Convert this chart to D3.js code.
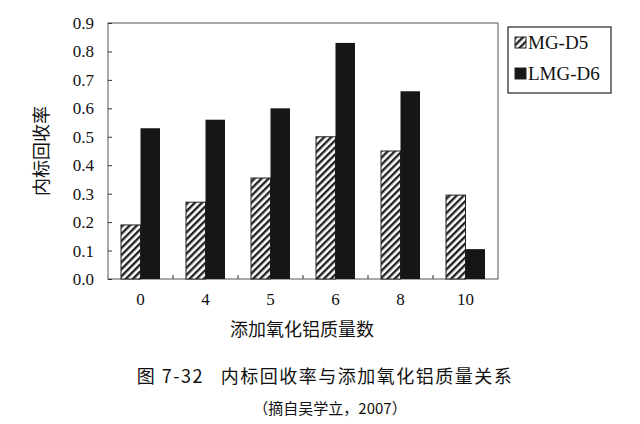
<!DOCTYPE html>
<html><head><meta charset="utf-8">
<script src="https://cdn.jsdelivr.net/npm/d3@7"></script>
<style>body{margin:0;background:#fff} text{white-space:pre}</style></head>
<body><svg id="c" width="640" height="424"></svg>
<script>
const categories = ["0","4","5","6","8","10"];
const seriesNames = ["MG-D5","LMG-D6"];
const mgD5 = [0.19,0.27,0.355,0.50,0.45,0.295];
const lmgD6 = [0.53,0.56,0.60,0.83,0.66,0.105];
const yTicks = [0,0.1,0.2,0.3,0.4,0.5,0.6,0.7,0.8,0.9];

const svg = d3.select("#c");
const serif = "'Liberation Serif','DejaVu Serif',serif";
const cjk = "'Noto Sans CJK SC',sans-serif";
const L=108,R=498,T=23,B=279;
const defs = svg.append("defs");
const pat = defs.append("pattern").attr("id","hatch").attr("patternUnits","userSpaceOnUse")
  .attr("width",5).attr("height",5).attr("patternTransform","rotate(45)");
pat.append("rect").attr("width",5).attr("height",5).attr("fill","#fff");
pat.append("rect").attr("width",2.4).attr("height",5).attr("fill","#222");

const x = d3.scaleBand().domain(categories).range([L,R]).paddingInner(0.4).paddingOuter(0.2);
const y = d3.scaleLinear().domain([0,0.9]).range([B,T]);
const bw = x.bandwidth()/2;

svg.append("rect").attr("x",L).attr("y",T).attr("width",R-L).attr("height",B-T)
  .attr("fill","none").attr("stroke","#555").attr("stroke-width",1);

const yA = svg.append("g").attr("transform",`translate(${L},0)`)
  .call(d3.axisLeft(y).tickValues(yTicks).tickFormat(d3.format(".1f")).tickSizeInner(-4).tickSizeOuter(0).tickPadding(14));
yA.select(".domain").remove();
yA.selectAll("line").attr("stroke","#333");
yA.selectAll("text").attr("font-family",serif).attr("font-size",17).attr("fill","#111");

const xA = svg.append("g").attr("transform",`translate(0,${B})`)
  .call(d3.axisBottom(x).tickSize(0).tickPadding(14));
xA.select(".domain").remove();
xA.selectAll("text").attr("font-family",serif).attr("font-size",17).attr("fill","#111");
svg.selectAll(".sep").data(categories.slice(1)).enter().append("line")
  .attr("x1",d=>x(d)-x.step()*x.paddingInner()/2).attr("x2",d=>x(d)-x.step()*x.paddingInner()/2)
  .attr("y1",B).attr("y2",B-4).attr("stroke","#333");

const g = svg.append("g");
categories.forEach((c,i)=>{
  g.append("rect").attr("x",x(c)).attr("y",y(mgD5[i])).attr("width",bw).attr("height",B-y(mgD5[i]))
    .attr("fill","url(#hatch)").attr("stroke","#222").attr("stroke-width",1);
  g.append("rect").attr("x",x(c)+bw).attr("y",y(lmgD6[i])).attr("width",bw).attr("height",B-y(lmgD6[i]))
    .attr("fill","#161616");
});

const lg = svg.append("g");
lg.append("rect").attr("x",508).attr("y",27).attr("width",103).attr("height",66)
  .attr("fill","#fff").attr("stroke","#222").attr("stroke-width",1.2);
[["url(#hatch)",seriesNames[0]],["#161616",seriesNames[1]]].forEach((s,i)=>{
  const yy = 37+i*31;
  lg.append("rect").attr("x",515).attr("y",yy).attr("width",11).attr("height",11)
    .attr("fill",s[0]).attr("stroke","#222");
  lg.append("text").attr("x",528).attr("y",yy+12).text(s[1])
    .attr("font-family",serif).attr("font-size",19).attr("fill","#111");
});

svg.append("text").attr("transform","translate(48,151) rotate(-90)").attr("text-anchor","middle")
  .attr("font-family",cjk).attr("font-size",18).attr("fill","#111").text("内标回收率");
svg.append("text").attr("x",302).attr("y",336).attr("text-anchor","middle")
  .attr("font-family",cjk).attr("font-size",18).attr("fill","#111").text("添加氧化铝质量数");
svg.append("text").attr("x",325).attr("y",383).attr("text-anchor","middle")
  .attr("font-family",cjk).attr("font-size",18).attr("fill","#111").attr("letter-spacing",1.5)
  .text("图 7-32   内标回收率与添加氧化铝质量关系");
svg.append("text").attr("x",330).attr("y",414).attr("text-anchor","middle")
  .attr("font-family",cjk).attr("font-size",15).attr("fill","#111").text("（摘自吴学立，2007）");
</script></body></html>
